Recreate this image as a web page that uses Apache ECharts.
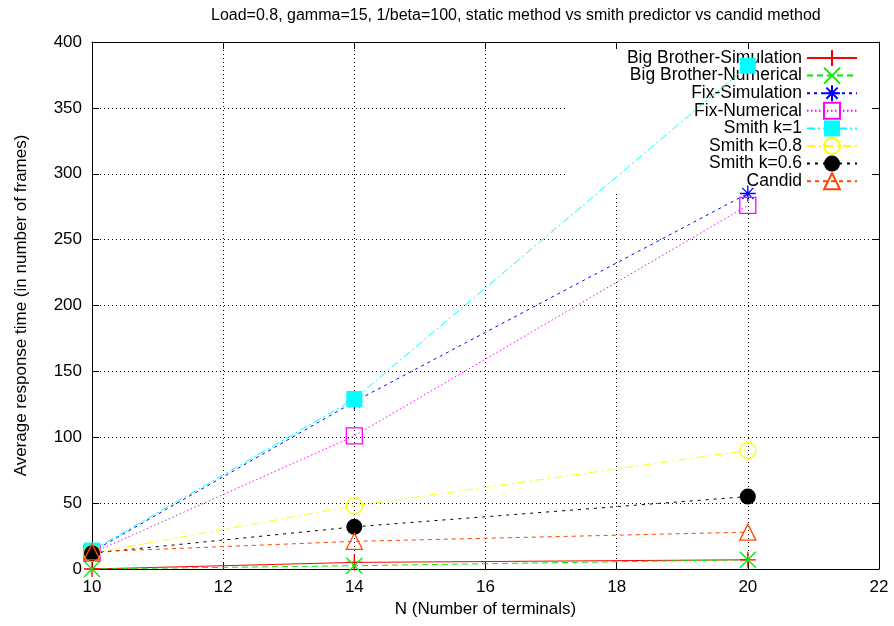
<!DOCTYPE html>
<html>
<head>
<meta charset="utf-8">
<script src="https://cdn.jsdelivr.net/npm/echarts@6/dist/echarts.min.js"></script>
<style>html,body{margin:0;padding:0;background:#fff;}#c{width:894px;height:626px;}</style>
</head>
<body>
<div id="c"></div>
<script>
var titleText = 'Load=0.8, gamma=15, 1/beta=100, static method vs smith predictor vs candid method';
var xName = 'N (Number of terminals)';
var yName = 'Average response time (in number of frames)';
var nValues = [10, 14, 20];
var bbSim = [0, 5, 7];
var bbNum = [0, 2.5, 7];
var fixSim = [13, 127, 285];
var fixNum = [12, 101, 276];
var smith1 = [14, 129, 382];
var smith08 = [12, 48, 90];
var smith06 = [12, 32, 55];
var candid = [13, 21, 28];
var names = ['Big Brother-Simulation','Big Brother-Numerical','Fix-Simulation','Fix-Numerical','Smith k=1','Smith k=0.8','Smith k=0.6','Candid'];
var seriesValues = [bbSim, bbNum, fixSim, fixNum, smith1, smith08, smith06, candid];

var FONT = 'Liberation Sans';
var styles = [
  {color:'#ff0000', type:'solid', symbol:'path://M0,10L20,10M10,0L10,20', fill:'rgba(0,0,0,0)', stroke:true},
  {color:'#00ee00', type:[6,4], symbol:'path://M0,0L20,20M20,0L0,20', fill:'rgba(0,0,0,0)', stroke:true},
  {color:'#0000ff', type:[3,4], symbol:'path://M0,10L20,10M10,0L10,20M3,3L17,17M17,3L3,17', fill:'rgba(0,0,0,0)', stroke:true},
  {color:'#ff00ff', type:[1.5,2.5], symbol:'rect', fill:'rgba(0,0,0,0)', stroke:true},
  {color:'#00ffff', type:[8,3,2,3], symbol:'rect', fill:'#00ffff', stroke:false},
  {color:'#ffff00', type:[8,4,2,4], symbol:'circle', fill:'rgba(0,0,0,0)', stroke:true},
  {color:'#000000', type:[3,5], symbol:'circle', fill:'#000000', stroke:false},
  {color:'#ff4500', type:[4,4], symbol:'triangle', fill:'rgba(0,0,0,0)', stroke:true}
];

var series = names.map(function(n, i){
  var s = styles[i];
  return {
    name: n, type: 'line', z: 2,
    data: nValues.map(function(x, j){ return [x, seriesValues[i][j]]; }),
    symbol: s.symbol, symbolSize: 16, showAllSymbol: true,
    lineStyle: {color: s.color, width: 1, type: s.type},
    itemStyle: {color: s.fill, borderColor: s.color, borderWidth: s.stroke ? 1.3 : 0},
    emphasis: {disabled: true},
    animation: false
  };
});

var chart = echarts.init(document.getElementById('c'), null, {renderer:'canvas'});
chart.setOption({
  animation: false,
  backgroundColor: '#ffffff',
  title: {text: titleText, left: 206, top: 3, textStyle: {fontFamily: FONT, fontSize: 16, fontWeight: 'normal', color: '#000'}},
  grid: {left: 92, right: 15, top: 42, bottom: 57, containLabel: false},
  legend: {
    data: names, orient: 'vertical', right: 16, top: 43, z: 1,
    align: 'right', itemWidth: 50, itemHeight: 20, itemGap: -0.4,
    backgroundColor: '#ffffff', padding: [6, 20, 2, 62],
    textStyle: {fontFamily: FONT, fontSize: 17.5, color: '#000'},
    selectedMode: false
  },
  xAxis: [
    {type:'value', min:10, max:22, interval:2, position:'bottom', z:0,
     name: xName, nameLocation:'middle', nameGap: 30,
     nameTextStyle:{fontFamily:FONT, fontSize:17, color:'#000'},
     axisLine:{show:true, onZero:false, lineStyle:{color:'#000', width:1}},
     axisTick:{show:true, inside:true, length:7, lineStyle:{color:'#000'}},
     axisLabel:{fontFamily:FONT, fontSize:17, color:'#000', margin:10},
     splitLine:{show:true, lineStyle:{color:'#000', type:[1,3], width:1}}},
    {type:'value', min:10, max:22, interval:2, position:'top', z:3,
     axisLine:{show:true, onZero:false, lineStyle:{color:'#000', width:1}},
     axisTick:{show:true, inside:true, length:7, lineStyle:{color:'#000'}},
     axisLabel:{show:false}, splitLine:{show:false}}
  ],
  yAxis: [
    {type:'value', min:0, max:400, interval:50, position:'left', z:0,
     name: yName, nameLocation:'middle', nameGap: 62, nameRotate: 90,
     nameTextStyle:{fontFamily:FONT, fontSize:17, color:'#000'},
     axisLine:{show:true, onZero:false, lineStyle:{color:'#000', width:1}},
     axisTick:{show:true, inside:true, length:7, lineStyle:{color:'#000'}},
     axisLabel:{fontFamily:FONT, fontSize:17, color:'#000', margin:10},
     splitLine:{show:true, lineStyle:{color:'#000', type:[1,3], width:1}}},
    {type:'value', min:0, max:400, interval:50, position:'right', z:3,
     axisLine:{show:true, onZero:false, lineStyle:{color:'#000', width:1}},
     axisTick:{show:true, inside:true, length:7, lineStyle:{color:'#000'}},
     axisLabel:{show:false}, splitLine:{show:false}}
  ],
  series: series
});
</script>
</body>
</html>
